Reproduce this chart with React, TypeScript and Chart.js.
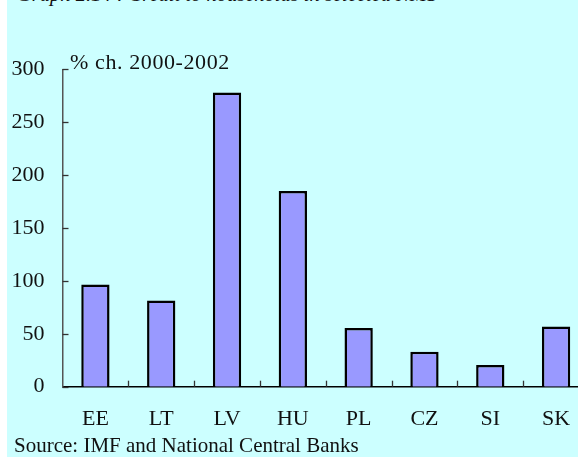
import React, { useEffect, useRef } from "react";
import { Chart, registerables } from "chart.js";

Chart.register(...registerables);

const categories = ["EE", "LT", "LV", "HU", "PL", "CZ", "SI", "SK"];
const creditGrowth = [96.5, 81.5, 278, 185, 55.5, 33, 20.5, 57];
const yTickValues = [0, 50, 100, 150, 200, 250, 300];
const titleText = "Graph 2.14 : Credit to households in selected NMS";
const unitLabel = "% ch. 2000-2002";
const sourceText = "Source: IMF and National Central Banks";

const FONT = "'Liberation Serif', 'Times New Roman', serif";

const innerTicks = {
  id: "innerTicks",
  afterDatasetsDraw(chart: any) {
    const { ctx, chartArea } = chart;
    const xs = chart.scales.x;
    const ys = chart.scales.y;
    ctx.save();
    ctx.strokeStyle = "#333";
    ctx.lineWidth = 1.3;
    ys.ticks.forEach((_t: any, i: number) => {
      const py = Math.round(ys.getPixelForTick(i)) + 0.5;
      ctx.beginPath();
      ctx.moveTo(chartArea.left, py);
      ctx.lineTo(chartArea.left + 6, py);
      ctx.stroke();
    });
    for (let i = 1; i < categories.length; i++) {
      const px = Math.round((xs.getPixelForValue(i - 1) + xs.getPixelForValue(i)) / 2) + 0.5;
      ctx.beginPath();
      ctx.moveTo(px, chartArea.bottom);
      ctx.lineTo(px, chartArea.bottom - 6);
      ctx.stroke();
    }
    ctx.restore();
  },
};

export default function App() {
  const ref = useRef<HTMLCanvasElement | null>(null);

  useEffect(() => {
    document.body.style.margin = "0";
    if (!ref.current) return;
    const chart = new Chart(ref.current, {
      type: "bar",
      data: {
        labels: categories,
        datasets: [
          {
            data: creditGrowth,
            backgroundColor: "#9999FF",
            borderColor: "#000000",
            borderWidth: 2.5,
            barPercentage: 0.43,
            categoryPercentage: 1,
          },
        ],
      },
      options: {
        animation: false,
        responsive: false,
        devicePixelRatio: 1,
        layout: { padding: { left: 0, right: 0, top: 69.3, bottom: 0 } },
        plugins: {
          legend: { display: false },
          tooltip: { enabled: false },
          title: { display: false },
        },
        scales: {
          x: {
            grid: { display: false },
            border: { display: true, color: "#000", width: 1.5 },
            ticks: {
              color: "#111",
              padding: 11,
              font: { family: FONT, size: 22 },
            },
            afterFit(scale: any) {
              scale.height = 457 - 386.7;
            },
          },
          y: {
            min: 0,
            max: 300,
            grid: { display: false },
            border: { display: true, color: "#555", width: 1.5 },
            afterBuildTicks(scale: any) {
              scale.ticks = yTickValues.map((v) => ({ value: v }));
            },
            ticks: {
              color: "#111",
              padding: 10,
              font: { family: FONT, size: 22 },
            },
            afterFit(scale: any) {
              scale.width = 62.5;
            },
          },
        },
      },
      plugins: [innerTicks],
    });
    return () => chart.destroy();
  }, []);

  return (
    <div
      style={{
        position: "relative",
        width: 578,
        height: 457,
        overflow: "hidden",
        background: "#ffffff",
      }}
    >
      <div
        style={{
          position: "absolute",
          left: 7,
          top: 0,
          width: 571,
          height: 457,
          background: "#CCFFFF",
        }}
      />
      <div
        style={{
          position: "absolute",
          left: 17,
          top: -16,
          fontFamily: FONT,
          fontStyle: "italic",
          fontSize: 20.5,
          lineHeight: "20px",
          whiteSpace: "nowrap",
          color: "#111",
        }}
      >
        {titleText}
      </div>
      <canvas
        ref={ref}
        width={589}
        height={457}
        style={{ position: "absolute", left: 0, top: 0 }}
      />
      <div
        style={{
          position: "absolute",
          left: 70,
          top: 51,
          fontFamily: FONT,
          fontSize: 22,
          letterSpacing: "0.6px",
          lineHeight: "22px",
          whiteSpace: "nowrap",
          color: "#111",
        }}
      >
        {unitLabel}
      </div>
      <div
        style={{
          position: "absolute",
          left: 14,
          top: 435,
          fontFamily: FONT,
          fontSize: 21,
          lineHeight: "21px",
          whiteSpace: "nowrap",
          color: "#111",
        }}
      >
        {sourceText}
      </div>
    </div>
  );
}
